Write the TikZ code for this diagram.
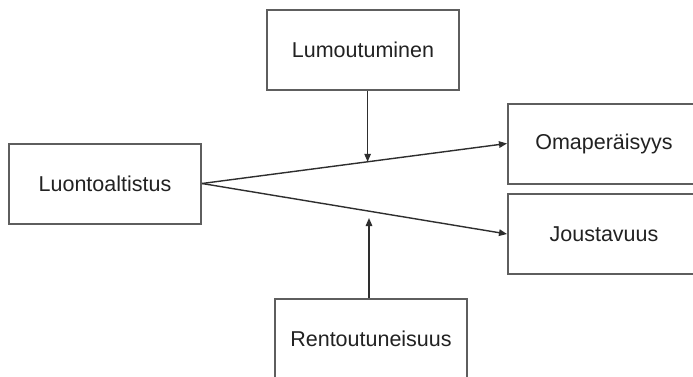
\documentclass[tikz,border=0pt]{standalone}
\usepackage{fontspec}
\setmainfont{Liberation Sans}
\usetikzlibrary{arrows.meta,calc}
\definecolor{boxline}{HTML}{5E5E5E}
\definecolor{arrline}{HTML}{2E2E2E}
\definecolor{txt}{HTML}{222222}
\tikzset{
  box/.style={draw=boxline, line width=2pt, minimum width=192pt, minimum height=80pt,
    inner sep=0pt, text=txt, font=\fontsize{21.5}{26}\selectfont},
  conn/.style={draw=arrline, line width=1.4pt, -{Triangle[length=8pt,width=6.5pt]}},
}
\begin{document}
\begin{tikzpicture}[x=1pt,y=-1pt]
\useasboundingbox (0,0) rectangle (693,376);
\clip (0,0) rectangle (693,376);
\fill[white] (0,0) rectangle (693,376);
\node[box] (lu) at (105,183.5) {Luontoaltistus};
\node[box] (lm) at (363,50) {Lumoutuminen};
\node[box] (om) at (604,143.5) {Omaperäisyys};
\node[box] (jo) at (604,234) {Joustavuus};
\node[box] (re) at (371,339) {Rentoutuneisuus};
\draw[conn] (lu.east) -- (om.west);
\draw[conn] (lu.east) -- (jo.west);
\coordinate (m1) at ($(lu.east)!0.543!(om.west)$);
\coordinate (m2) at (369,218);
\draw[conn] (lm.south -| m1) -- (m1);
\draw[conn] (re.north -| m2) -- (m2);
\end{tikzpicture}
\end{document}
